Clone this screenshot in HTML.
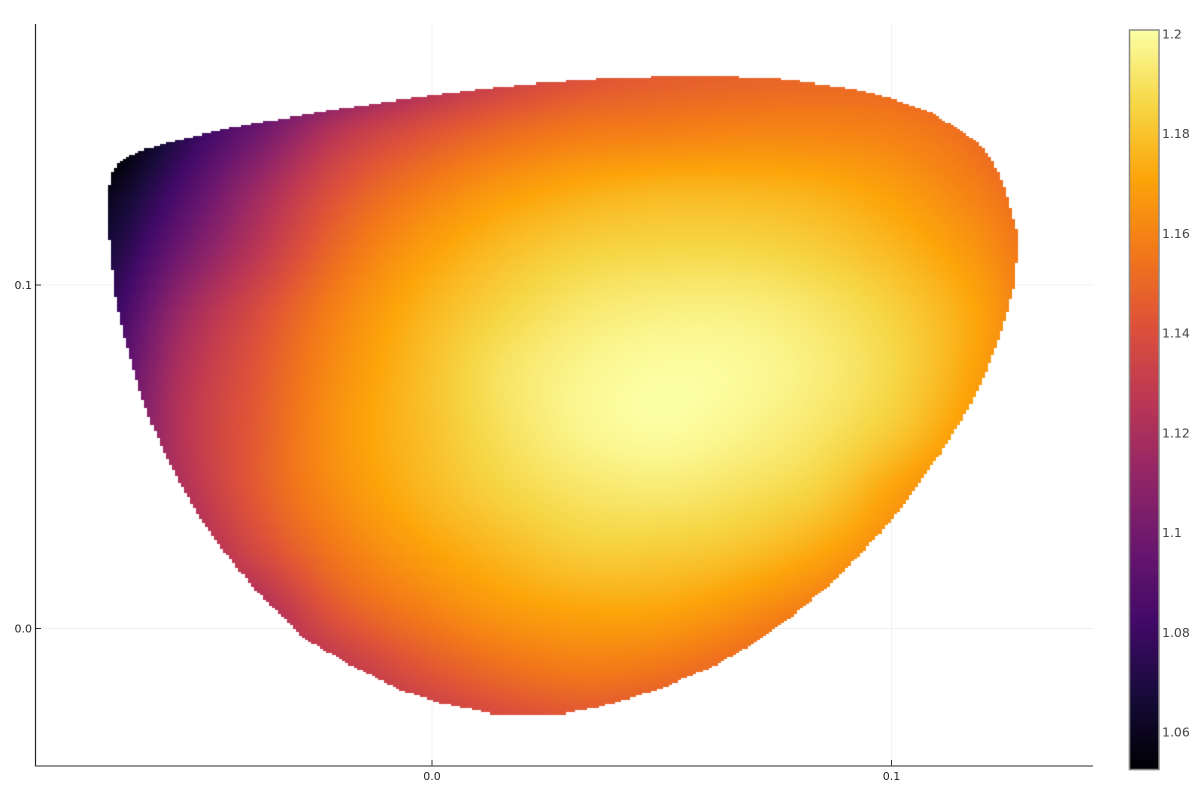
<!DOCTYPE html>
<html lang="en">
<head>
<meta charset="utf-8">
<title>Heatmap</title>
<style>
html,body{margin:0;padding:0;background:#fff;}
#plot{position:relative;width:1200px;height:800px;overflow:hidden;background:#fff;}
#plot svg,#plot canvas{position:absolute;left:0;top:0;}
text{font-family:"DejaVu Sans","Liberation Sans",sans-serif;}
</style>
</head>
<body>
<div id="plot">
<svg id="grid" width="1200" height="800"></svg>
<canvas id="heat" width="1200" height="800"></canvas>
<canvas id="cbar" width="1200" height="800"></canvas>
<svg id="axes" width="1200" height="800"></svg>
</div>
<script>
// ---- tick data
const xTicks = [0.0, 0.1];
const xTickLabels = ["0.0", "0.1"];
const yTicks = [0.0, 0.1];
const yTickLabels = ["0.0", "0.1"];
const cbarTicks = [1.06, 1.08, 1.10, 1.12, 1.14, 1.16, 1.18, 1.20];
const cbarTickLabels = ["1.06", "1.08", "1.1", "1.12", "1.14", "1.16", "1.18", "1.2"];
const valueMin = 1.0524;
const valueMax = 1.2008;

// ---- value field samples (rows follow fieldY, columns follow fieldX)
const fieldX = [-0.0723,-0.0549,-0.0375,-0.0200,-0.0026,0.0148,0.0322,0.0497,0.0671,0.0845,0.1019,0.1193,0.1367];
const fieldY = [0.1626,0.1451,0.1277,0.1102,0.0927,0.0753,0.0578,0.0403,0.0229,0.0054,-0.0121,-0.0295];
const fieldValues = [
[1.030,1.065,1.080,1.095,1.115,1.130,1.140,1.145,1.147,1.149,1.148,1.140,1.130],
[1.040,1.072,1.098,1.125,1.140,1.150,1.156,1.158,1.160,1.160,1.158,1.150,1.130],
[1.056,1.085,1.116,1.142,1.157,1.167,1.173,1.176,1.176,1.174,1.168,1.158,1.144],
[1.066,1.098,1.127,1.152,1.168,1.178,1.184,1.186,1.186,1.183,1.176,1.165,1.148],
[1.074,1.113,1.139,1.160,1.175,1.185,1.192,1.195,1.195,1.191,1.183,1.170,1.148],
[1.082,1.121,1.144,1.164,1.178,1.190,1.197,1.200,1.199,1.194,1.185,1.169,1.146],
[1.087,1.124,1.146,1.166,1.178,1.189,1.197,1.200,1.197,1.191,1.181,1.164,1.145],
[1.090,1.121,1.146,1.164,1.176,1.185,1.191,1.193,1.190,1.184,1.169,1.155,1.145],
[1.090,1.114,1.138,1.157,1.169,1.177,1.183,1.183,1.180,1.172,1.159,1.145,1.135],
[1.085,1.106,1.121,1.145,1.158,1.167,1.171,1.171,1.165,1.156,1.144,1.130,1.120],
[1.080,1.098,1.112,1.127,1.142,1.152,1.157,1.155,1.148,1.138,1.129,1.120,1.100],
[1.068,1.088,1.098,1.113,1.126,1.136,1.141,1.138,1.128,1.118,1.108,1.098,1.078]
];

// ---- outline of the defined region: left / right extent at each y
const edgeY = [0.16084,0.16026,0.15968,0.15910,0.15852,0.15735,0.15590,0.15473,0.15328,0.15211,0.15037,0.14920,0.14687,0.14512,0.14396,0.14163,0.13901,0.13639,0.13290,0.13115,0.12766,0.12475,0.11747,0.11543,0.11310,0.11281,0.10728,0.10582,0.10000,0.09563,0.09272,0.08544,0.07380,0.06215,0.05051,0.04760,0.03450,0.02227,0.01121,0.00917,0.00189,-0.00335,-0.00539,-0.01063,-0.01266,-0.01790,-0.02169,-0.02285,-0.02460,-0.02504];
const edgeLeft = [0.05571,0.04048,0.03264,0.02699,0.02133,0.01262,0.00435,-0.00261,-0.01023,-0.01567,-0.02437,-0.02873,-0.03961,-0.04570,-0.04940,-0.05702,-0.06355,-0.06747,-0.06964,-0.06986,-0.07051,-0.07051,-0.07051,-0.07051,-0.07051,-0.06986,-0.06964,-0.06964,-0.06921,-0.06877,-0.06834,-0.06703,-0.06464,-0.06181,-0.05811,-0.05702,-0.05158,-0.04505,-0.03852,-0.03700,-0.03134,-0.02764,-0.02437,-0.01785,-0.01458,-0.00696,0.00174,0.00609,0.01262,0.01262];
const edgeRight = [0.05963,0.07312,0.07791,0.08096,0.08400,0.09053,0.09532,0.09859,0.10185,0.10446,0.10838,0.10990,0.11273,0.11491,0.11600,0.11861,0.12035,0.12165,0.12318,0.12361,0.12492,0.12535,0.12688,0.12753,0.12753,0.12753,0.12753,0.12688,0.12688,0.12579,0.12535,0.12361,0.12035,0.11600,0.11056,0.10882,0.10185,0.09380,0.08553,0.08335,0.07682,0.07138,0.06877,0.06181,0.05832,0.04918,0.03939,0.03656,0.02895,0.02895];

// ---- inferno colour stops
const inferno = [[0,0,4],[22,11,57],[66,10,104],[106,23,110],[147,38,103],[188,55,84],[221,81,58],[243,120,25],[252,165,10],[246,215,70],[252,255,164]];

// ---- axis functions
function xPx(d){ return 432 + d * 4595; }
function yPx(d){ return 628.5 - d * 3435; }
function cbarPx(v){ return 34 + (1.2 - v) * 4986; }
function cbarVal(p){ return 1.2 - (p - 34) / 4986; }

function colorFor(v){
  const t = Math.max(0, Math.min(1, (v - valueMin) / (valueMax - valueMin))) * (inferno.length - 1);
  const i = Math.min(inferno.length - 2, Math.floor(t));
  const f = t - i, a = inferno[i], b = inferno[i + 1];
  return "rgb(" + Math.round(a[0] + (b[0] - a[0]) * f) + "," + Math.round(a[1] + (b[1] - a[1]) * f) + "," + Math.round(a[2] + (b[2] - a[2]) * f) + ")";
}
function cubic(p0, p1, p2, p3, t){
  return 0.5 * (2 * p1 + (p2 - p0) * t + (2 * p0 - 5 * p1 + 4 * p2 - p3) * t * t + (3 * p1 - p0 - 3 * p2 + p3) * t * t * t);
}
function clampIndex(i, n){ return Math.max(0, Math.min(n - 1, i)); }
function fieldAt(x, y){
  const cx = (x - fieldX[0]) / (fieldX[fieldX.length - 1] - fieldX[0]) * (fieldX.length - 1);
  const cy = (y - fieldY[0]) / (fieldY[fieldY.length - 1] - fieldY[0]) * (fieldY.length - 1);
  const ix = Math.floor(cx), iy = Math.floor(cy), tx = cx - ix, ty = cy - iy;
  const rows = [];
  for (let r = -1; r <= 2; r++) {
    const row = fieldValues[clampIndex(iy + r, fieldY.length)];
    rows.push(cubic(row[clampIndex(ix - 1, fieldX.length)], row[clampIndex(ix, fieldX.length)], row[clampIndex(ix + 1, fieldX.length)], row[clampIndex(ix + 2, fieldX.length)], tx));
  }
  return cubic(rows[0], rows[1], rows[2], rows[3], ty);
}
function extentAt(y){
  for (let i = 0; i < edgeY.length - 1; i++) {
    if (y <= edgeY[i] && y >= edgeY[i + 1]) {
      const f = (edgeY[i] - y) / (edgeY[i] - edgeY[i + 1]);
      return [edgeLeft[i] + (edgeLeft[i + 1] - edgeLeft[i]) * f, edgeRight[i] + (edgeRight[i + 1] - edgeRight[i]) * f];
    }
  }
  return null;
}

// ---- heatmap cells
const heat = document.getElementById("heat").getContext("2d");
const cellsAcross = 300;
const cellsDown = 300;
const spanLeft = Math.min.apply(null, edgeLeft);
const spanRight = Math.max.apply(null, edgeRight);
const spanTop = edgeY[0];
const spanBottom = edgeY[edgeY.length - 1];
const cellW = (spanRight - spanLeft) / cellsAcross;
const cellH = (spanTop - spanBottom) / cellsDown;
for (let j = 0; j < cellsDown; j++) {
  const yc = spanTop - (j + 0.5) * cellH;
  const ext = extentAt(yc);
  if (!ext) continue;
  const top = Math.round(yPx(spanTop - j * cellH));
  const bot = Math.round(yPx(spanTop - (j + 1) * cellH));
  for (let i = 0; i < cellsAcross; i++) {
    const xc = spanLeft + (i + 0.5) * cellW;
    if (xc < ext[0] || xc > ext[1]) continue;
    const l = Math.round(xPx(spanLeft + i * cellW));
    const r = Math.round(xPx(spanLeft + (i + 1) * cellW));
    heat.fillStyle = colorFor(fieldAt(xc, yc));
    heat.fillRect(l, top, r - l, bot - top);
  }
}

// ---- colour bar gradient
const cb = document.getElementById("cbar").getContext("2d");
for (let p = 30; p < 770; p++) {
  cb.fillStyle = colorFor(cbarVal(p + 0.5));
  cb.fillRect(1129, p, 30, 1);
}

// ---- axes, grid, ticks
const NS = "http://www.w3.org/2000/svg";
const gridSvg = document.getElementById("grid");
const axesSvg = document.getElementById("axes");
function make(parent, tag, attrs, txt){
  const el = document.createElementNS(NS, tag);
  for (const k in attrs) el.setAttribute(k, attrs[k]);
  if (txt !== undefined) el.textContent = txt;
  parent.appendChild(el);
  return el;
}
let el;
xTicks.forEach(function(t, i){
  el = make(gridSvg, "line", {x1: xPx(t), x2: xPx(t), y1: 24, y2: 766, stroke: "#f1f1f1", "stroke-width": 1});
  
  
  el = make(axesSvg, "line", {x1: xPx(t), x2: xPx(t), y1: 760, y2: 766, stroke: "#333", "stroke-width": 1});
  
  
  el = make(axesSvg, "text", {x: xPx(t), y: 780, "font-size": 11, "text-anchor": "middle", fill: "#222"}, xTickLabels[i]);
  
  
});
yTicks.forEach(function(t, i){
  el = make(gridSvg, "line", {x1: 35, x2: 1093, y1: yPx(t), y2: yPx(t), stroke: "#f1f1f1", "stroke-width": 1});
  
  
  el = make(axesSvg, "line", {x1: 35, x2: 41, y1: yPx(t), y2: yPx(t), stroke: "#333", "stroke-width": 1});
  
  
  el = make(axesSvg, "text", {x: 32, y: yPx(t) + 4, "font-size": 11, "text-anchor": "end", fill: "#222"}, yTickLabels[i]);
  
  
});
el = make(axesSvg, "line", {x1: 35.5, x2: 35.5, y1: 24, y2: 766.5, stroke: "#222", "stroke-width": 1.2});


el = make(axesSvg, "line", {x1: 35, x2: 1093, y1: 766, y2: 766, stroke: "#555", "stroke-width": 1.2});


el = make(axesSvg, "rect", {x: 1129.5, y: 30, width: 29.5, height: 739.5, fill: "none", stroke: "#8a8a8a", "stroke-width": 1.5});


cbarTicks.forEach(function(t, i){
  el = make(axesSvg, "text", {x: 1162, y: cbarPx(t) + 4.5, "font-size": 12.5, fill: "#444"}, cbarTickLabels[i]);
  
  
});
</script>
</body>
</html>
